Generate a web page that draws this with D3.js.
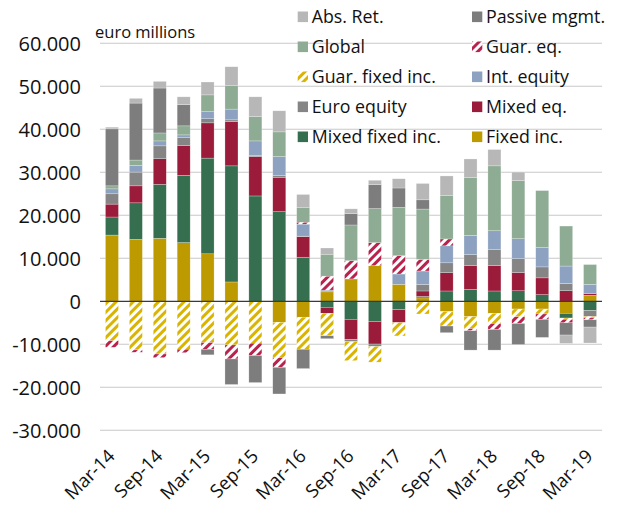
<!DOCTYPE html>
<html>
<head>
<meta charset="utf-8">
<script src="https://cdn.jsdelivr.net/npm/d3@7"></script>
<style>
  body { margin: 0; background: #fff; }
  text { font-family: "Open Sans", "Noto Sans", sans-serif; fill: #111; }
</style>
</head>
<body>
<div id="chart"></div>
<script>
// quarterly net flows, euro millions
var quarters = ["Mar-14","Jun-14","Sep-14","Dec-14","Mar-15","Jun-15","Sep-15","Dec-15",
                "Mar-16","Jun-16","Sep-16","Dec-16","Mar-17","Jun-17","Sep-17","Dec-17",
                "Mar-18","Jun-18","Sep-18","Dec-18","Mar-19"];

var fixedInc      = [15400,14400,14650,13650,11050,4500,0,-4900,-3700,2200,5200,8300,3950,800,-2400,-3550,-2800,-1800,-1800,-2800,1400];
var mixedFixedInc = [4200,8500,12550,15650,22250,27000,24500,20850,10250,-1400,-4200,-4700,-1950,350,2400,2800,2400,2450,1550,-1100,-2150];
var mixedEq       = [3000,3950,5950,6900,8200,10300,9150,8000,4800,-1400,-4650,-5250,-3000,1250,4250,5500,5900,4250,3900,2450,400];
var euroEquity    = [2400,3200,3000,1950,950,400,300,450,100,0,-550,-550,0,1550,2300,2550,3700,3200,2550,1700,-1400];
var intEquity     = [1150,1550,1150,550,1650,2500,3350,4350,2800,400,0,0,2400,3100,3950,4500,4400,4650,4500,4050,2150];
var guarFixedInc  = [-9150,-11300,-12250,-11150,-9600,-10150,-9750,-8200,-7450,-5200,-4400,-3650,-3100,-2950,-3350,-2800,-2350,-1800,-1150,-300,-300];
var guarEq        = [-1550,-550,-850,-800,-1550,-3250,-2850,-2250,450,3250,4250,5350,4250,2700,1600,-500,-1400,-1550,-1250,-800,-450];
var global        = [700,1250,1850,2100,3900,5450,5650,5750,3350,5100,8300,7900,11250,11700,10150,13400,15100,13500,13250,9300,4600];
var passiveMgmt   = [13250,13250,10450,4950,-1300,-5950,-6300,-6200,-4500,-700,2650,5600,4500,2150,-1550,-4500,-4800,-4900,-4200,-2850,-1700];
var absRet        = [400,1100,1550,1800,3000,4400,4600,4900,3100,1450,1100,1000,2150,3800,4500,4350,3800,2000,0,-1950,-3700];

var yTicks = [-30000,-20000,-10000,0,10000,20000,30000,40000,50000,60000];

// stacking order, bottom first
var series = [
    {key: "Fixed inc.",        values: fixedInc,      color: "#bd9a00"},
    {key: "Mixed fixed inc.",  values: mixedFixedInc, color: "#356f4f"},
    {key: "Mixed eq.",         values: mixedEq,       color: "#9b1b3a"},
    {key: "Euro equity",       values: euroEquity,    color: "#858585"},
    {key: "Int. equity",       values: intEquity,     color: "#8da2c0"},
    {key: "Guar. fixed inc.",  values: guarFixedInc,  color: "#d9b400", hatch: "hatch_gfi"},
    {key: "Guar. eq.",         values: guarEq,        color: "#b8224c", hatch: "hatch_geq"},
    {key: "Global",            values: global,        color: "#8eab93"},
    {key: "Passive mgmt.",     values: passiveMgmt,   color: "#7d7d7d"},
    {key: "Abs. Ret.",         values: absRet,        color: "#b7b7b7"}
];

// legend layout as in the original (two columns, top series first)
var legendOrder = ["Abs. Ret.","Passive mgmt.","Global","Guar. eq.","Guar. fixed inc.",
                   "Int. equity","Euro equity","Mixed eq.","Mixed fixed inc.","Fixed inc."];

var table = quarters.map(function(q, i){
    var row = {quarter: q};
    series.forEach(function(s){ row[s.key] = s.values[i] });
    return row;
});

const chartW = 622,
      chartH = 505,
      plotL = 100,
      plotR = 602,
      plotT = 43.3,
      plotB = 430.3;

var svg = d3.select("#chart")
    .append("svg")
    .attr("width", chartW)
    .attr("height", chartH);

var defs = svg.append("defs");
series.filter(d => d.hatch).forEach(function(s){
    var p = defs.append("pattern")
        .attr("id", s.hatch)
        .attr("patternUnits", "userSpaceOnUse")
        .attr("width", 6)
        .attr("height", 6)
        .attr("patternTransform", "rotate(45)");
    p.append("rect").attr("width", 6).attr("height", 6).attr("fill", "#fff");
    p.append("rect").attr("width", 3).attr("height", 6).attr("fill", s.color);
});

var x = d3.scaleBand()
    .domain(quarters)
    .range([plotL, plotR])
    .paddingInner(0.455)
    .paddingOuter(0.2275);

var y = d3.scaleLinear()
    .domain([-30000, 60000])
    .range([plotB, plotT]);

var locale = d3.formatLocale({decimal: ",", thousands: ".", grouping: [3], currency: ["", ""], minus: "-"});
var fmt = locale.format(",");

// gridlines
svg.append("g")
    .selectAll("line")
    .data(yTicks.filter(d => d !== 0))
    .enter()
    .append("line")
    .attr("x1", plotL)
    .attr("x2", plotR)
    .attr("y1", d => y(d))
    .attr("y2", d => y(d))
    .attr("stroke", "#c8c8c8")
    .attr("stroke-width", 1.1);

// y axis labels
var yAxis = svg.append("g")
    .attr("transform", "translate(" + plotL + ",0)")
    .call(d3.axisLeft(y).tickValues(yTicks).tickFormat(fmt).tickSize(0).tickPadding(19));
yAxis.select(".domain").remove();
yAxis.selectAll("text")
    .attr("dy", "0.36em")
    .style("font-size", "20px")
    .style("font-family", "'Open Sans', sans-serif")
    .attr("fill", "#111");

var stacked = d3.stack()
    .keys(series.map(d => d.key))
    .offset(d3.stackOffsetDiverging)(table);

var fillOf = {};
series.forEach(function(s){ fillOf[s.key] = s.hatch ? "url(#" + s.hatch + ")" : s.color });

svg.append("g")
    .selectAll("g")
    .data(stacked)
    .enter()
    .append("g")
    .attr("fill", d => fillOf[d.key])
    .selectAll("rect")
    .data(d => d)
    .enter()
    .append("rect")
    .attr("x", d => x(d.data.quarter))
    .attr("width", x.bandwidth())
    .attr("y", d => y(Math.max(d[0], d[1])))
    .attr("height", d => Math.abs(y(d[0]) - y(d[1])))
    .attr("stroke", "#fff")
    .attr("stroke-width", 0.5)
    .attr("stroke-opacity", 0.5);

// zero line
svg.append("line")
    .attr("x1", plotL)
    .attr("x2", plotR)
    .attr("y1", y(0))
    .attr("y2", y(0))
    .attr("stroke", "#3a3a3a")
    .attr("stroke-width", 1.2);

// x axis labels, every second quarter
var xAxis = svg.append("g")
    .attr("transform", "translate(0," + plotB + ")")
    .call(d3.axisBottom(x).tickValues(quarters.filter((d, i) => i % 2 == 0)).tickSize(0));
xAxis.select(".domain").remove();
xAxis.selectAll("text")
    .attr("x", 0)
    .attr("y", 0)
    .attr("dy", 0)
    .attr("transform", "translate(4,27) rotate(-45)")
    .style("text-anchor", "end")
    .style("font-size", "18.5px")
    .style("font-family", "'Open Sans', sans-serif")
    .attr("fill", "#111");

svg.append("text")
    .attr("x", 95)
    .attr("y", 37.5)
    .style("font-size", "16.5px")
    .text("euro millions");

// legend
var legend = svg.append("g")
    .selectAll("g")
    .data(legendOrder)
    .enter()
    .append("g")
    .attr("transform", (d, i) => "translate(" + (i % 2 == 0 ? 297.7 : 472) + "," + (16.8 + Math.floor(i / 2) * 30) + ")");

legend.append("rect")
    .attr("x", 0)
    .attr("y", -5.3)
    .attr("width", 10.3)
    .attr("height", 10.6)
    .attr("fill", d => fillOf[d]);

legend.append("text")
    .attr("x", 14)
    .attr("dy", "0.36em")
    .style("font-size", "17.8px")
    .text(d => d);
</script>
</body>
</html>
